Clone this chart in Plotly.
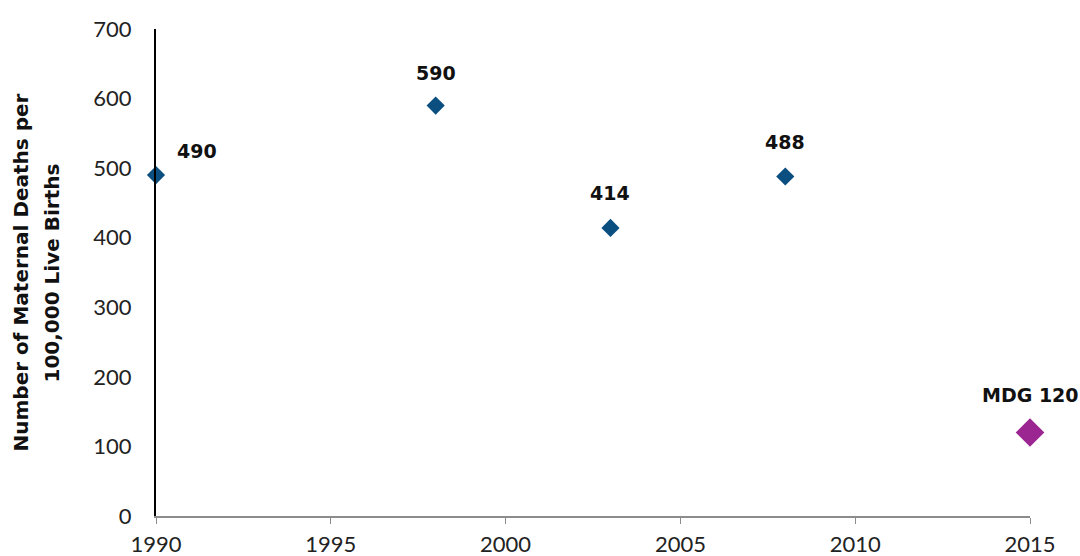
import plotly.graph_objects as go

# Maternal mortality ratio observations and the 2015 MDG target
years = [1990, 1998, 2003, 2008]
ratios = [490, 590, 414, 488]
ratio_labels = ["490", "590", "414", "488"]

target_year = [2015]
target_value = [120]
target_label = ["MDG 120"]

x_ticks = [1990, 1995, 2000, 2005, 2010, 2015]
y_ticks = [0, 100, 200, 300, 400, 500, 600, 700]

# pixel offsets of each value label from its marker (dx, dy)
label_offsets = [(41, 24), (0, 33), (0, 35), (0, 34)]
target_offset = (0, 38)

TICK_FONT = "Lato, 'DejaVu Sans', sans-serif"
BOLD_FONT = "'DejaVu Sans', sans-serif"

fig = go.Figure()

fig.add_trace(go.Scatter(
    x=years, y=ratios, mode="markers",
    marker=dict(symbol="diamond", size=14, color="#0B4F80"),
    cliponaxis=False, showlegend=False, hoverinfo="x+y",
))

fig.add_trace(go.Scatter(
    x=target_year, y=target_value, mode="markers",
    marker=dict(symbol="diamond", size=22, color="#9B2691"),
    cliponaxis=False, showlegend=False, hoverinfo="x+y",
))

label_font = dict(family=BOLD_FONT, size=19, color="#111111")
for xv, yv, txt, (dx, dy) in zip(years, ratios, ratio_labels, label_offsets):
    fig.add_annotation(x=xv, y=yv, text=f"<b>{txt}</b>", showarrow=False,
                       xanchor="center", yanchor="middle",
                       xshift=dx, yshift=dy, font=label_font)
for xv, yv, txt in zip(target_year, target_value, target_label):
    fig.add_annotation(x=xv, y=yv, text=f"<b>{txt}</b>", showarrow=False,
                       xanchor="center", yanchor="middle",
                       xshift=target_offset[0], yshift=target_offset[1],
                       font=label_font)

# two-line rotated y-axis title
title_font = dict(family=BOLD_FONT, size=20, color="#111111")
for line, xpos in [("Number of Maternal Deaths per", -0.1545),
                   ("100,000 Live Births", -0.1190)]:
    fig.add_annotation(xref="paper", yref="paper", x=xpos, y=0.5,
                       text=f"<b>{line}</b>", textangle=-90, showarrow=False,
                       xanchor="center", yanchor="middle", font=title_font)

fig.update_layout(
    width=1080, height=556,
    margin=dict(l=156, r=50, t=29, b=40),
    paper_bgcolor="white", plot_bgcolor="white",
    font=dict(family=TICK_FONT, size=22, color="#222222"),
)

fig.update_xaxes(
    range=[1990, 2015], tickvals=x_ticks, automargin=False,
    showgrid=False, zeroline=False,
    showline=True, linecolor="#8c8c8c", linewidth=2,
    ticks="outside", ticklen=6, tickcolor="#8c8c8c", tickwidth=1,
    ticklabelstandoff=2,
    tickfont=dict(family=TICK_FONT, size=22, color="#222222"),
)

fig.update_yaxes(
    range=[0, 700], tickvals=y_ticks, automargin=False,
    showgrid=False, zeroline=False,
    showline=True, linecolor="#000000", linewidth=2,
    ticks="", ticklabelstandoff=18,
    tickfont=dict(family=TICK_FONT, size=22, color="#222222"),
)

fig.write_html("out.html")
